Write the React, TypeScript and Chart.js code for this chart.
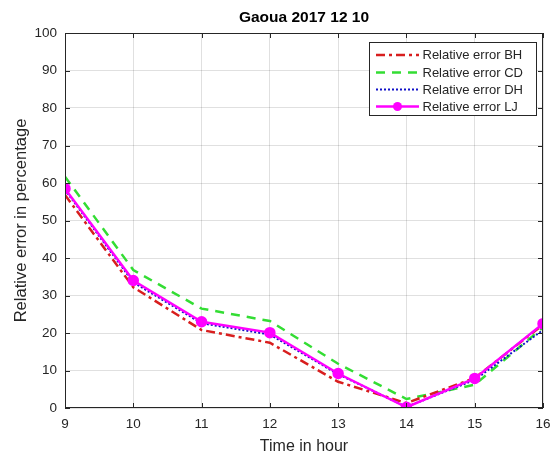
import React, { useEffect, useRef } from "react";
import { Chart, registerables } from "chart.js";

Chart.register(...registerables);

const hours = [9, 10, 11, 12, 13, 14, 15, 16];
const errBH = [56.8, 32.2, 20.8, 17.4, 7.0, 1.3, 8.0, 22.2];
const errCD = [61.7, 36.8, 26.5, 23.2, 11.8, 2.4, 6.2, 21.5];
const errDH = [58.2, 33.5, 22.6, 19.6, 9.0, 0.3, 7.5, 20.8];
const errLJ = [58.5, 34.0, 23.0, 20.1, 9.2, 0.2, 7.9, 22.5];
const yTicks = [0, 10, 20, 30, 40, 50, 60, 70, 80, 90, 100];
const seriesNames = ["Relative error BH", "Relative error CD", "Relative error DH", "Relative error LJ"];
const chartTitle = "Gaoua 2017 12 10";

const FONT = "'Liberation Sans', Arial, Helvetica, sans-serif";
const AXIS = "#262626";

const toPts = (vals: number[]) => hours.map((h, i) => ({ x: h, y: vals[i] }));

const frameAndLegend = {
  id: "frameAndLegend",
  afterDatasetsDraw(chart: any) {
    const { ctx, chartArea } = chart;
    const { left, right, top, bottom } = chartArea;
    ctx.save();
    ctx.strokeStyle = AXIS;
    ctx.lineWidth = 1;
    ctx.strokeRect(left + 0.5, top + 0.5, right - left - 1, bottom - top - 1);
    const xs = chart.scales.x;
    const ys = chart.scales.y;
    ctx.beginPath();
    hours.forEach((h) => {
      const px = Math.round(xs.getPixelForValue(h)) + 0.5;
      ctx.moveTo(px, bottom);
      ctx.lineTo(px, bottom - 5);
      ctx.moveTo(px, top);
      ctx.lineTo(px, top + 5);
    });
    yTicks.forEach((v) => {
      const py = Math.round(ys.getPixelForValue(v)) + 0.5;
      ctx.moveTo(left, py);
      ctx.lineTo(left + 5, py);
      ctx.moveTo(right, py);
      ctx.lineTo(right - 5, py);
    });
    ctx.stroke();

    // title centred over the plot area
    ctx.fillStyle = "#000";
    ctx.font = `bold 15.5px ${FONT}`;
    ctx.textAlign = "center";
    ctx.textBaseline = "middle";
    ctx.fillText(chartTitle, (left + right) / 2, 18);

    // legend
    const bx = 369.5, by = 42.5, bw = 167, bh = 73;
    ctx.fillStyle = "#ffffff";
    ctx.fillRect(bx, by, bw, bh);
    ctx.strokeStyle = AXIS;
    ctx.strokeRect(bx, by, bw, bh);
    const rows = [55, 72.5, 89.5, 106.5];
    [0, 1, 2, 3].forEach((di, r) => {
      const ds = chart.data.datasets[di];
      const y = rows[r];
      ctx.save();
      ctx.strokeStyle = ds.borderColor;
      ctx.lineWidth = ds.borderWidth;
      ctx.setLineDash(ds.borderDash || []);
      ctx.beginPath();
      ctx.moveTo(376, y);
      ctx.lineTo(419, y);
      ctx.stroke();
      ctx.setLineDash([]);
      if (ds.pointRadius > 0) {
        ctx.fillStyle = ds.pointBackgroundColor;
        ctx.beginPath();
        ctx.arc(397.5, y, ds.pointRadius, 0, Math.PI * 2);
        ctx.fill();
      }
      ctx.restore();
      ctx.fillStyle = AXIS;
      ctx.font = `13px ${FONT}`;
      ctx.textBaseline = "middle";
      ctx.textAlign = "left";
      ctx.fillText(seriesNames[di], 422.5, y + 0.5);
    });
    ctx.restore();
  },
};

export default function App() {
  const ref = useRef<HTMLCanvasElement | null>(null);
  useEffect(() => {
    document.body.style.margin = "0";
    const chart = new Chart(ref.current!, {
      type: "line",
      data: {
        datasets: [
          {
            label: seriesNames[0],
            data: toPts(errBH),
            borderColor: "#d81e1e",
            borderWidth: 2.5,
            borderDash: [9, 4, 3, 4],
            pointRadius: 0,
            fill: false,
            order: 2,
          },
          {
            label: seriesNames[1],
            data: toPts(errCD),
            borderColor: "#33dd33",
            borderWidth: 2.5,
            borderDash: [9, 7],
            pointRadius: 0,
            fill: false,
            order: 3,
          },
          {
            label: seriesNames[2],
            data: toPts(errDH),
            borderColor: "#1010c8",
            borderWidth: 2,
            borderDash: [2, 2],
            pointRadius: 0,
            fill: false,
            order: 1,
          },
          {
            label: seriesNames[3],
            data: toPts(errLJ),
            borderColor: "#ff00ff",
            borderWidth: 2.5,
            pointRadius: 4.5,
            pointBackgroundColor: "#ff00ff",
            pointBorderColor: "#ff00ff",
            fill: false,
            order: 0,
          },
        ] as any,
      },
      options: {
        animation: false,
        responsive: false,
        maintainAspectRatio: false,
        layout: { padding: { left: 0, right: 12, top: 33, bottom: 0 } },
        plugins: {
          legend: { display: false },
          tooltip: { enabled: false },
          title: { display: false },
        },
        scales: {
          x: {
            type: "linear",
            min: 9,
            max: 16,
            afterFit: (s: any) => {
              s.height = 48;
              s.paddingRight = 0;
              s.paddingLeft = 0;
            },
            ticks: {
              stepSize: 1,
              color: AXIS,
              font: { family: FONT, size: 13.5 },
              padding: 8,
            },
            grid: { color: "rgba(0,0,0,0.12)", drawTicks: false },
            border: { display: false },
            title: {
              display: true,
              text: "Time in hour",
              color: AXIS,
              font: { family: FONT, size: 16 },
              padding: { top: 0, bottom: 0 },
            },
          },
          y: {
            min: 0,
            max: 100,
            afterFit: (s: any) => {
              s.width = 65;
              s.paddingTop = 0;
              s.paddingBottom = 0;
            },
            ticks: {
              stepSize: 10,
              color: AXIS,
              font: { family: FONT, size: 13.5 },
              padding: 8,
            },
            grid: { color: "rgba(0,0,0,0.12)", drawTicks: false },
            border: { display: false },
            title: {
              display: true,
              text: "Relative error in percentage",
              color: AXIS,
              font: { family: FONT, size: 16.5 },
              padding: { top: 12, bottom: 0 },
            },
          },
        },
      } as any,
      plugins: [frameAndLegend],
    });
    return () => chart.destroy();
  }, []);
  return (
    <div style={{ position: "absolute", left: 0, top: 0, width: 555, height: 456, background: "#fff" }}>
      <canvas ref={ref} width={555} height={456} />
    </div>
  );
}
